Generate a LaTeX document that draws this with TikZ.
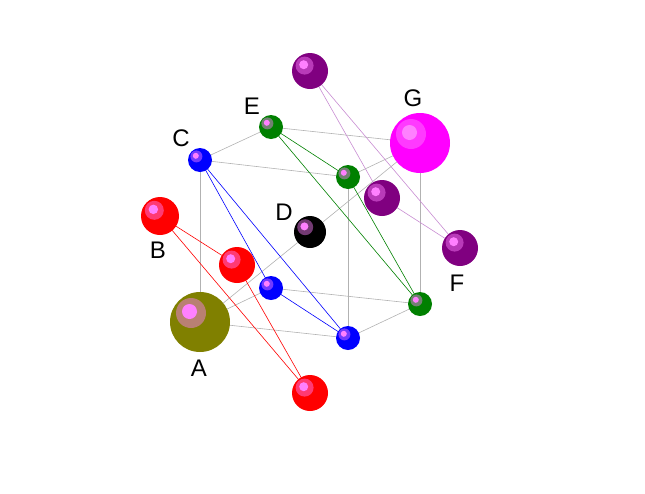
\documentclass[tikz,border=0pt]{standalone}
\usepackage{fontspec}
\setmainfont{Liberation Sans}
\definecolor{mag}{RGB}{255,0,255}
\definecolor{pur}{RGB}{128,0,128}
\definecolor{grn}{RGB}{0,128,0}
\definecolor{blu}{RGB}{0,0,255}
\definecolor{rd}{RGB}{255,0,0}
\definecolor{oli}{RGB}{128,128,0}
\definecolor{hl}{RGB}{255,128,255}
\definecolor{plum}{RGB}{200,140,210}
\begin{document}
\begin{tikzpicture}[x=1pt,y=-1pt,
  edge/.style={draw=black!30,line width=0.6pt},
  lab/.style={font=\fontsize{24}{24}\selectfont}]
\useasboundingbox (0,0) rectangle (645,493);
\newcommand{\ball}[5]{% name, x, y, r, color
  \fill[#5] (#2,#3) circle (#4);
  \fill[#5!55!hl] ({#2-0.3*#4},{#3-0.3*#4}) circle ({0.5*#4});
  \fill[hl] ({#2-0.35*#4},{#3-0.35*#4}) circle ({0.25*#4});
  \coordinate (#1) at (#2,#3);}
\coordinate (c1) at (200,160); \coordinate (c2) at (271,127);
\coordinate (c3) at (420,143); \coordinate (c4) at (348,177);
\coordinate (c5) at (200,322); \coordinate (c6) at (271,288);
\coordinate (c7) at (420,304); \coordinate (c8) at (348,338);
\coordinate (b) at (160,216); \coordinate (r2) at (237,265); \coordinate (r3) at (310,393);
\coordinate (p1) at (310,71); \coordinate (p2) at (382,198); \coordinate (f) at (460,248);
% cube edges
\draw[edge] (c1)--(c2)--(c3)--(c4)--cycle;
\draw[edge] (c5)--(c6)--(c7)--(c8)--cycle;
\draw[edge] (c1)--(c5) (c3)--(c7) (c4)--(c8);
\draw[edge] (c5)--(c3);
% colored lines
\draw[rd,line width=0.6pt] (b)--(r2)--(r3)--cycle;
\draw[blu,line width=0.6pt] (c1)--(c6)--(c8)--cycle;
\draw[grn,line width=0.6pt] (c2)--(c4)--(c7)--cycle;
\draw[plum,line width=0.6pt] (p1)--(p2)--(f)--cycle;
% balls
\ball{nE}{271}{127}{12}{grn}
\ball{nP1}{310}{71}{18}{pur}
\ball{nC}{200}{160}{12}{blu}
\ball{nG}{420}{143}{30}{mag}
\ball{nB}{160}{216}{19}{rd}
\ball{nG2}{348}{177}{12}{grn}
\ball{nD}{310}{232}{16}{black}
\ball{nP2}{382}{198}{18}{pur}
\ball{nF}{460}{248}{18}{pur}
\ball{nR2}{237}{265}{18}{rd}
\ball{nB2}{271}{288}{12}{blu}
\ball{nG3}{420}{304}{12}{grn}
\ball{nB3}{348}{338}{12}{blu}
\ball{nA}{200}{322}{30}{oli}
\ball{nR3}{310}{393}{18}{rd}
% labels
\node[lab] (lA) at (199,368) {A};
\node[lab] (lB) at (158,250) {B};
\node[lab] (lC) at (181,138) {C};
\node[lab] (lD) at (284,212) {D};
\node[lab] (lE) at (252,106) {E};
\node[lab] (lF) at (457,283) {F};
\node[lab] (lG) at (413,98) {G};
\end{tikzpicture}
\end{document}
